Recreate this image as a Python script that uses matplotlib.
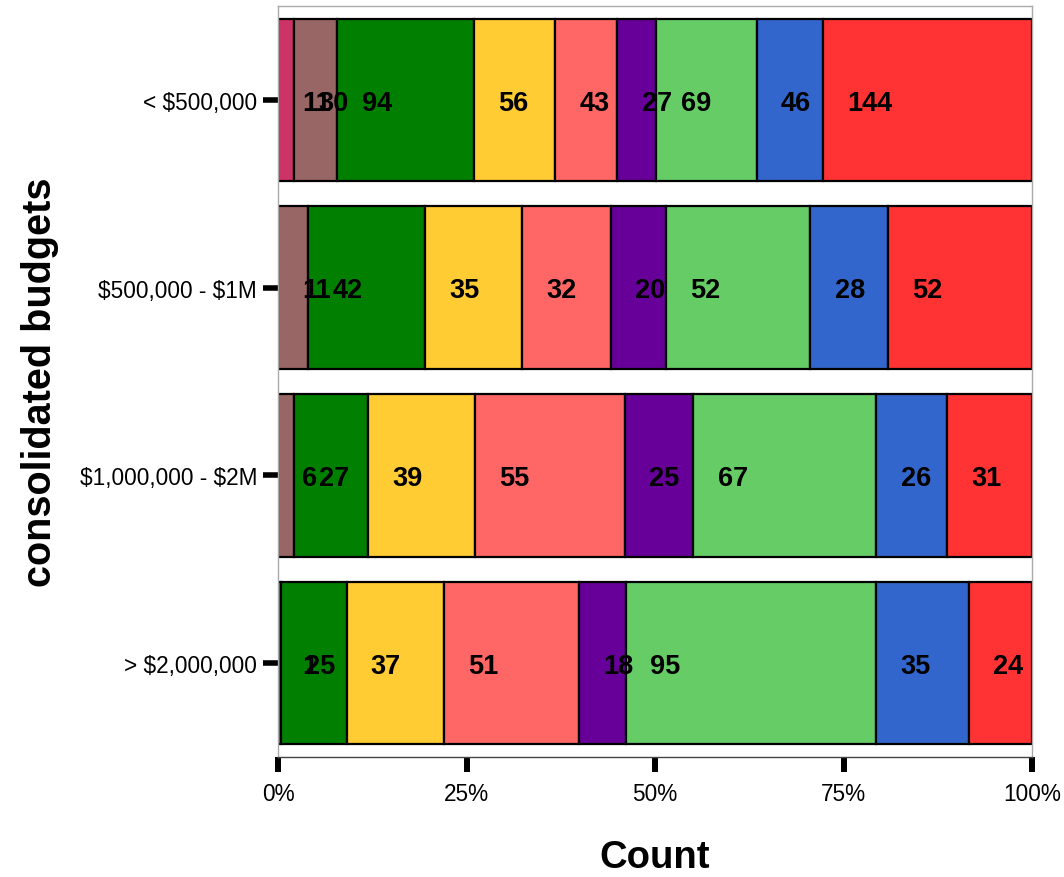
import matplotlib
matplotlib.use("Agg")
import matplotlib.pyplot as plt
import numpy as np

plt.rcParams['font.family'] = ['Liberation Sans', 'DejaVu Sans']

budgets = ["< $500,000", "$500,000 - $1M", "$1,000,000 - $2M", "> $2,000,000"]
series_names = ["s1", "s2", "s3", "s4", "s5", "s6", "s7", "s8", "s9"]
series_colors = ["#CC3366", "#996666", "#007F00", "#FFCC33", "#FF6666",
                 "#660099", "#66CC66", "#3366CC", "#FF3333"]
counts_lt500k = [11, 30, 94, 56, 43, 27, 69, 46, 144]
counts_500k_1m = [0, 11, 42, 35, 32, 20, 52, 28, 52]
counts_1m_2m = [0, 6, 27, 39, 55, 25, 67, 26, 31]
counts_gt2m = [0, 1, 25, 37, 51, 18, 95, 35, 24]
x_ticks = [0, 0.25, 0.5, 0.75, 1.0]
x_tick_labels = ["0%", "25%", "50%", "75%", "100%"]

rows = [counts_lt500k, counts_500k_1m, counts_1m_2m, counts_gt2m]

W, H = 1064, 878
fig = plt.figure(figsize=(W / 100, H / 100), dpi=100)
ax = fig.add_axes([278 / W, 1 - 758 / H, (1032 - 278) / W, (758 - 7) / H])

for i, row in enumerate(rows):
    vals = np.array(row, dtype=float)
    frac = vals / vals.sum()
    starts = np.concatenate([[0], np.cumsum(frac)[:-1]])
    for j in range(len(vals)):
        if vals[j] <= 0:
            continue
        ax.barh(i, frac[j], left=starts[j], height=0.865, color=series_colors[j],
                edgecolor="black", linewidth=1.6, zorder=2)
    for j in range(len(vals)):
        if vals[j] <= 0:
            continue
        ax.annotate(str(int(vals[j])), xy=(starts[j], i), xytext=(17.5, -2),
                    textcoords="offset points", ha="left", va="center",
                    fontsize=19.5, fontweight="bold", color="black", zorder=3)

ax.set_xlim(0, 1)
ax.set_ylim(3.5, -0.5)
ax.set_yticks(range(len(budgets)))
ax.set_yticklabels([b.replace("$", r"\$") for b in budgets], fontsize=16.3)
ax.set_xticks(x_ticks)
ax.set_xticklabels(x_tick_labels, fontsize=16.3)
ax.tick_params(axis="x", length=11, width=4.3, pad=7, color="black")
ax.tick_params(axis="y", length=11, width=4, pad=4, color="black")

for s in ["top", "left", "right"]:
    ax.spines[s].set_color("#AAAAAA")
    ax.spines[s].set_linewidth(1)
ax.spines["bottom"].set_color("#444444")
ax.spines["bottom"].set_linewidth(1)

fig.text(655 / W, 1 - 858 / H, "Count", ha="center", va="center",
         fontsize=27.5, fontweight="bold")
fig.text(40 / W, 1 - 382 / H, "consolidated budgets", ha="center", va="center",
         rotation=90, fontsize=28.5, fontweight="bold")

fig.savefig("out.png", dpi=100)
